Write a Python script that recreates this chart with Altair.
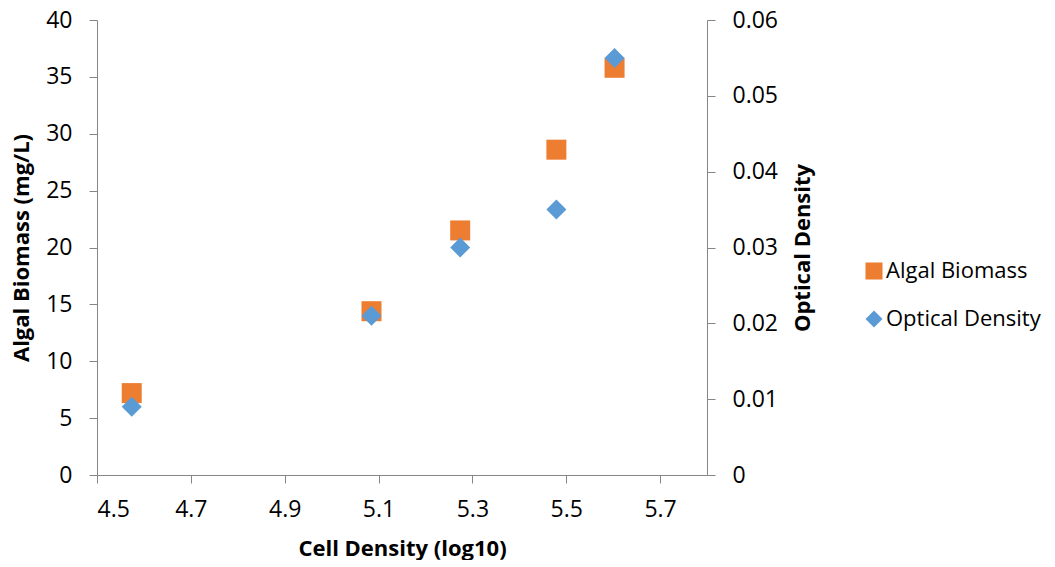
import altair as alt
import pandas as pd

cell_density = [4.574, 5.085, 5.274, 5.479, 5.603]
algal_biomass = [7.2, 14.4, 21.5, 28.6, 35.8]
optical_density = [0.009, 0.021, 0.030, 0.035, 0.055]

series_names = ["Algal Biomass", "Optical Density"]
series_colors = ["#ED7D31", "#5B9BD5"]
series_shapes = ["square", "diamond"]

x_ticks = [4.5, 4.7, 4.9, 5.1, 5.3, 5.5, 5.7]
left_ticks = [0, 5, 10, 15, 20, 25, 30, 35, 40]
right_ticks = [0, 0.01, 0.02, 0.03, 0.04, 0.05, 0.06]

rows = []
for x, a in zip(cell_density, algal_biomass):
    rows.append({"x": x, "series": "Algal Biomass", "value": a})
for x, o in zip(cell_density, optical_density):
    rows.append({"x": x, "series": "Optical Density", "value": o})
df = pd.DataFrame(rows)

FONT = "Open Sans"
AX_COLOR = "#868686"
W, H = 610, 455

color = alt.Color("series:N", scale=alt.Scale(domain=series_names, range=series_colors),
                  legend=alt.Legend(title=None))
shape = alt.Shape("series:N", scale=alt.Scale(domain=series_names, range=series_shapes),
                  legend=alt.Legend(title=None))

x_enc = alt.X("x:Q", scale=alt.Scale(domain=[4.5, 5.8], nice=False, zero=False),
              axis=alt.Axis(values=x_ticks, format=".1f", title="Cell Density (log10)",
                            titlePadding=17, labelPadding=15, tickSize=8))

base = alt.Chart(df)

left = base.transform_filter(alt.datum.series == "Algal Biomass").mark_point(
    filled=True, size=400, opacity=1, strokeWidth=0
).encode(
    x=x_enc,
    y=alt.Y("value:Q", scale=alt.Scale(domain=[0, 40], nice=False),
            axis=alt.Axis(values=left_ticks, format="d", title="Algal Biomass (mg/L)",
                          orient="left", labelPadding=17, tickSize=8,
                          titleAngle=-90, titleBaseline="top", titleAlign="center",
                          titleX=-86, titleY=H / 2)),
    color=color,
    shape=shape,
)

right = base.transform_filter(alt.datum.series == "Optical Density").mark_point(
    filled=True, size=400, opacity=1, strokeWidth=0
).encode(
    x=x_enc,
    y=alt.Y("value:Q", scale=alt.Scale(domain=[0, 0.06], nice=False),
            axis=alt.Axis(values=right_ticks, title="Optical Density", orient="right",
                          labelExpr="datum.value == 0 ? '0' : format(datum.value, '.2f')",
                          labelPadding=17, tickSize=8,
                          titleAngle=-90, titleBaseline="top", titleAlign="center",
                          titleX=85, titleY=H / 2)),
    color=color,
    shape=shape,
)

chart = alt.layer(left, right).resolve_scale(y="independent").properties(
    width=W,
    height=H,
    autosize=alt.AutoSizeParams(type="none"),
    padding={"left": 89, "top": 12, "right": 340, "bottom": 85},
).configure_view(stroke=None).configure_axis(
    grid=False,
    domainColor=AX_COLOR,
    tickColor=AX_COLOR,
    labelColor="#000000",
    titleColor="#000000",
    labelFont=FONT,
    titleFont=FONT,
    labelFontSize=23,
    titleFontSize=22,
    titleFontWeight="bold",
).configure_legend(
    orient="none",
    legendX=766,
    legendY=240,
    symbolSize=290,
    symbolStrokeWidth=0,
    labelFont=FONT,
    labelFontSize=22,
    labelColor="#000000",
    labelLimit=400,
    rowPadding=26,
    labelOffset=1,
    padding=0,
)

chart.save("out.html", embed_options={"renderer": "svg", "actions": False})
